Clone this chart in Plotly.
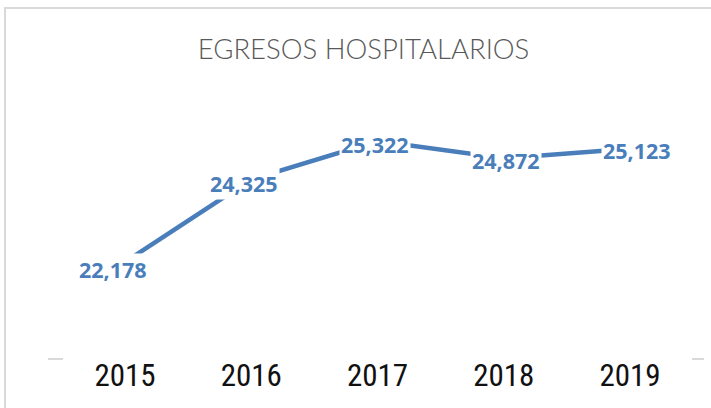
import plotly.graph_objects as go

years = ["2015", "2016", "2017", "2018", "2019"]
egresos = [22178, 24325, 25322, 24872, 25123]
label_xshift = [-12, -7, -3, 2, 7]
label_yshift = [-7, -4, -3, -2, -2]

W, H = 711, 408
L, R, T, B = 48, 7, 100, 49
pw, ph = W - L - R, H - T - B

blue = "#4A7EBB"
gray_line = "#D9D9D9"

fig = go.Figure()
fig.add_trace(go.Scatter(
    x=list(range(len(years))), y=egresos, mode="lines",
    line=dict(color=blue, width=4.5), hoverinfo="skip", showlegend=False,
))

for i, v in enumerate(egresos):
    fig.add_annotation(
        x=i, y=v, xref="x", yref="y", text=f"<b>{v:,}</b>", showarrow=False,
        font=dict(family="Open Sans", size=21.5, color=blue),
        bgcolor="white", borderpad=1,
        xshift=label_xshift[i], yshift=label_yshift[i],
    )

# chart border (top/left visible)
fig.add_shape(type="rect", xref="paper", yref="paper",
              x0=(5 - L) / pw, x1=(W + 10 - L) / pw, y0=-(B + 10) / ph, y1=(H - B - 8) / ph,
              line=dict(color=gray_line, width=2), fillcolor="rgba(0,0,0,0)", layer="below")
# axis end segments
fig.add_shape(type="line", xref="paper", yref="paper", x0=0, x1=15 / pw, y0=0, y1=0,
              line=dict(color=gray_line, width=2))
fig.add_shape(type="line", xref="paper", yref="paper", x0=(692 - L) / pw, x1=1, y0=0, y1=0,
              line=dict(color=gray_line, width=2))

fig.update_layout(
    width=W, height=H,
    margin=dict(l=L, r=R, t=T, b=B),
    paper_bgcolor="white", plot_bgcolor="white",
    title=dict(text="EGRESOS HOSPITALARIOS", x=363.5 / W, xref="container", xanchor="center",
               y=1 - 49 / H, yanchor="middle",
               font=dict(family="Lato", size=27.5, color="#595959", weight=300)),
    xaxis=dict(range=[-0.61, 4.586], tickvals=list(range(len(years))), ticktext=years,
               showgrid=False, zeroline=False, showline=False, ticks="",
               ticklabelstandoff=-5,
               tickfont=dict(family="Liberation Sans Narrow, Roboto Condensed, Roboto", size=31,
                             color="#111111"),
               fixedrange=True),
    yaxis=dict(range=[19659, 26387], visible=False, showgrid=False, fixedrange=True),
)

fig.write_html("out.html", config={"displayModeBar": False},
               post_script="document.body.style.margin='0';")
